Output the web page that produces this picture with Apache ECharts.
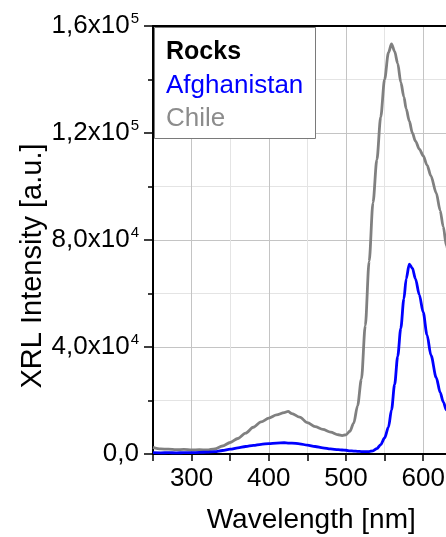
<!DOCTYPE html>
<html>
<head>
<meta charset="utf-8">
<script src="https://cdn.jsdelivr.net/npm/echarts@6/dist/echarts.min.js"></script>
<style>
  html, body { margin: 0; padding: 0; background: #fff; }
  #chart { width: 446px; height: 537px; }
</style>
</head>
<body>
<div id="chart"></div>
<script>
// wavelength grid [nm]
var wavelength = [250, 260, 270, 280, 290, 300, 310, 320, 330, 340, 350, 360, 370, 380, 390, 400, 410, 420, 425, 430, 440, 450, 460, 470, 480, 490, 495, 500, 505, 510, 515, 520, 525, 530, 535, 540, 545, 550, 555, 559, 563, 567, 571, 575, 578, 582, 586, 590, 595, 600, 605, 610, 617, 622, 626, 630, 640, 650, 660];
// XRL intensity [a.u.]
var chile = [2500, 1900, 1800, 1600, 1700, 1500, 1600, 1500, 1900, 3000, 4300, 5800, 7800, 10000, 12000, 13400, 14600, 15500, 15900, 15100, 13800, 11700, 10200, 9200, 8200, 7200, 6900, 7200, 8500, 11500, 18000, 28000, 48000, 72000, 94000, 110000, 126000, 140000, 150000, 153300, 150500, 146000, 139000, 133500, 129000, 124500, 120000, 117000, 114000, 111500, 108000, 104000, 97500, 91000, 85000, 78000, 58000, 40000, 26000];
var afghanistan = [500, 450, 500, 450, 500, 500, 600, 700, 900, 1300, 1800, 2300, 2800, 3200, 3600, 3900, 4100, 4200, 4100, 4100, 3800, 3300, 2800, 2300, 1900, 1600, 1500, 1400, 1200, 1100, 1000, 900, 900, 900, 1200, 2000, 3500, 6000, 10000, 16500, 26000, 36500, 47000, 58000, 65500, 71000, 69500, 65500, 59500, 53000, 44500, 37000, 28500, 23000, 19500, 16500, 10000, 6000, 3500];

var seriesNames = ['Afghanistan', 'Chile'];
var seriesColors = { Afghanistan: '#0000ff', Chile: '#808080' };
var legendTitle = 'Rocks';

var FONT = '"Liberation Sans", Arial, sans-serif';

function pairs(ys) {
  return wavelength.map(function (x, i) { return [x, ys[i]]; });
}

// 1,6x10^5 style labels
function sciLabel(v) {
  if (v === 0) return '{m|0,0}';
  var exp = Math.floor(Math.log10(v));
  var mant = (v / Math.pow(10, exp)).toFixed(1).replace('.', ',');
  return '{m|' + mant + 'x10}{s|' + exp + '}';
}

var chart = echarts.init(document.getElementById('chart'));

chart.setOption({
  animation: false,
  backgroundColor: '#fff',
  textStyle: { fontFamily: FONT },
  grid: {
    left: 153, top: 26, width: 316.5, height: 428,
    containLabel: false, outerBoundsMode: 'none'
  },
  // legend box: title + series names, coloured like their lines
  title: {
    left: 154, top: 23,
    text: '{t|' + legendTitle + '}\n' + seriesNames.map(function (n) { return '{' + n + '|' + n + '}'; }).join('\n'),
    padding: [13, 10, 7, 12],
    backgroundColor: '#fff', borderColor: '#7a7a7a', borderWidth: 1,
    textStyle: {
      fontWeight: 'normal',
      rich: {
        t: { fontSize: 25, fontWeight: 'bold', color: '#000', lineHeight: 33, width: 140, fontFamily: FONT },
        Afghanistan: { fontSize: 26, fontWeight: 'normal', color: seriesColors.Afghanistan, lineHeight: 33, width: 140, fontFamily: FONT },
        Chile: { fontSize: 26, fontWeight: 'normal', color: '#8c8c8c', lineHeight: 33, width: 140, fontFamily: FONT }
      }
    }
  },
  xAxis: [
    {
      type: 'value', min: 250, max: 660, interval: 50,
      name: 'Wavelength [nm]', nameLocation: 'middle', nameGap: 52,
      nameTextStyle: { fontSize: 28, color: '#000', fontFamily: FONT },
      axisLine: { onZero: false, lineStyle: { color: '#000', width: 2 } },
      axisTick: { length: 7, lineStyle: { color: '#000', width: 1.5 } },
      axisLabel: {
        fontSize: 26, color: '#000', margin: 12, fontFamily: FONT,
        formatter: function (v) { return v % 100 === 0 ? String(v) : ''; }
      },
      splitLine: { show: true, lineStyle: { color: ['#e4e4e4', '#c4c4c4'], width: 1 } }
    },
    {
      // top frame
      type: 'value', position: 'top', min: 250, max: 660,
      axisLine: { show: true, onZero: false, lineStyle: { color: '#000', width: 2 } },
      axisTick: { show: false }, axisLabel: { show: false }, splitLine: { show: false }
    }
  ],
  yAxis: {
    type: 'value', min: 0, max: 160000, interval: 40000,
    name: 'XRL Intensity [a.u.]', nameLocation: 'middle', nameGap: 106, nameMoveOverlap: false,
    nameTextStyle: { fontSize: 29, color: '#000', fontFamily: FONT, padding: [0, 52, 0, 0] },
    axisLine: { show: true, lineStyle: { color: '#000', width: 2 } },
    axisTick: { show: true, length: 9, lineStyle: { color: '#000', width: 1.5 } },
    minorTick: { show: true, splitNumber: 2, length: 5, lineStyle: { color: '#000', width: 1.5 } },
    axisLabel: {
      margin: 14, color: '#000',
      formatter: sciLabel,
      rich: {
        m: { fontSize: 26, lineHeight: 30, color: '#000', fontFamily: FONT },
        s: { fontSize: 15, lineHeight: 15, verticalAlign: 'top', color: '#000', fontFamily: FONT, padding: [0, 0, 0, 1] }
      }
    },
    splitLine: { show: true, lineStyle: { color: '#c4c4c4', width: 1 } },
    minorSplitLine: { show: true, lineStyle: { color: '#e4e4e4', width: 1 } }
  },
  series: [
    {
      name: 'Chile', type: 'line', data: pairs(chile),
      showSymbol: false, smooth: 0.3, smoothMonotone: 'x',
      lineStyle: { color: seriesColors.Chile, width: 2.8 },
      itemStyle: { color: seriesColors.Chile }
    },
    {
      name: 'Afghanistan', type: 'line', data: pairs(afghanistan),
      showSymbol: false, smooth: 0.3, smoothMonotone: 'x',
      lineStyle: { color: seriesColors.Afghanistan, width: 2.8 },
      itemStyle: { color: seriesColors.Afghanistan }
    }
  ]
});
</script>
</body>
</html>
